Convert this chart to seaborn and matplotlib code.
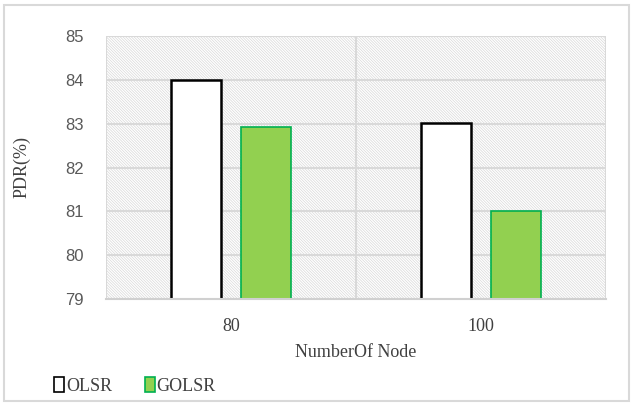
import matplotlib
matplotlib.use('Agg')
import matplotlib.pyplot as plt
import matplotlib.patches as mpatches
import pandas as pd
import seaborn as sns

# ==============================
# DATA
# ==============================
NODES = ["80", "100"]
OLSR = [84.0, 83.02]
GOLSR = [82.92, 81.0]
PROTOCOLS = ["OLSR", "GOLSR"]
Y_TICKS = [79, 80, 81, 82, 83, 84, 85]

FILL = {"OLSR": "white", "GOLSR": "#92D050"}
EDGE = {"OLSR": "black", "GOLSR": "#00B050"}

df = pd.DataFrame({
    "Node": NODES * 2,
    "Protocol": ["OLSR"] * len(NODES) + ["GOLSR"] * len(NODES),
    "PDR": OLSR + GOLSR,
})

# ==============================
# PLOT
# ==============================
sns.set_theme(style="white")
plt.rcParams['font.family'] = ['Liberation Serif', 'DejaVu Serif']
plt.rcParams['hatch.linewidth'] = 0.5

fig = plt.figure(figsize=(6.33, 4.05), dpi=100)
ax = fig.add_axes([106 / 633, 1 - 299 / 405, 500 / 633, 263 / 405])

# hatched plot background
bg = mpatches.Rectangle((0, 0), 1, 1, transform=ax.transAxes, facecolor="white",
                        edgecolor="#d8d8d8", hatch="\\" * 12, linewidth=0, zorder=0)
ax.add_patch(bg)

sns.barplot(data=df, x="Node", y="PDR", hue="Protocol", hue_order=PROTOCOLS,
            order=NODES, palette=FILL, saturation=1, width=0.56, gap=0.29, ax=ax,
            legend=False, zorder=2)

for i, proto in enumerate(PROTOCOLS):
    for bar in ax.containers[i]:
        bar.set_edgecolor(EDGE[proto])
        bar.set_linewidth(1.8 if proto == "OLSR" else 1.2)

ax.set_ylim(79, 85)
ax.set_xlim(-0.5, 1.5)
ax.set_yticks(Y_TICKS)
ax.set_yticklabels([str(t) for t in Y_TICKS], family=['Liberation Sans'],
                   color="#595959", fontsize=12)
ax.tick_params(axis='y', length=0, pad=16)
ax.tick_params(axis='x', length=0, pad=14, labelsize=13, labelcolor="#404040")

# category boundary ticks / gridlines
ax.set_xticks([-0.5, 0.5, 1.5], minor=True)
ax.tick_params(axis='x', which='minor', length=7, color="#d0d0d0", width=1.5)
ax.grid(axis='y', color="#d9d9d9", linewidth=1.5)
ax.grid(axis='x', which='minor', color="#d9d9d9", linewidth=1.5)
ax.grid(axis='x', which='major', visible=False)
ax.set_axisbelow(True)

for side in ["top", "left", "right"]:
    ax.spines[side].set_visible(False)
ax.spines["bottom"].set_color("#d0d0d0")
ax.spines["bottom"].set_linewidth(1.5)

ax.set_xlabel("NumberOf Node", fontsize=13, color="#404040", labelpad=6)
ax.set_ylabel("PDR(%)", fontsize=13, color="#404040", labelpad=25)

handles = [mpatches.Patch(facecolor=FILL[p], edgecolor=EDGE[p], linewidth=1.2, label=p)
           for p in PROTOCOLS]
fig.legend(handles=handles, loc="lower left", bbox_to_anchor=(0.06, -0.015), ncol=2,
           frameon=False, fontsize=13, handlelength=0.55, handleheight=0.85,
           handletextpad=0.1, columnspacing=1.8, labelcolor="#404040")

# outer chart border
fig.add_artist(mpatches.Rectangle((4 / 633, 4 / 405), 625 / 633, 396 / 405,
                                  transform=fig.transFigure, fill=False,
                                  edgecolor="#d9d9d9", linewidth=1.5))

fig.savefig("out.png", dpi=100)
